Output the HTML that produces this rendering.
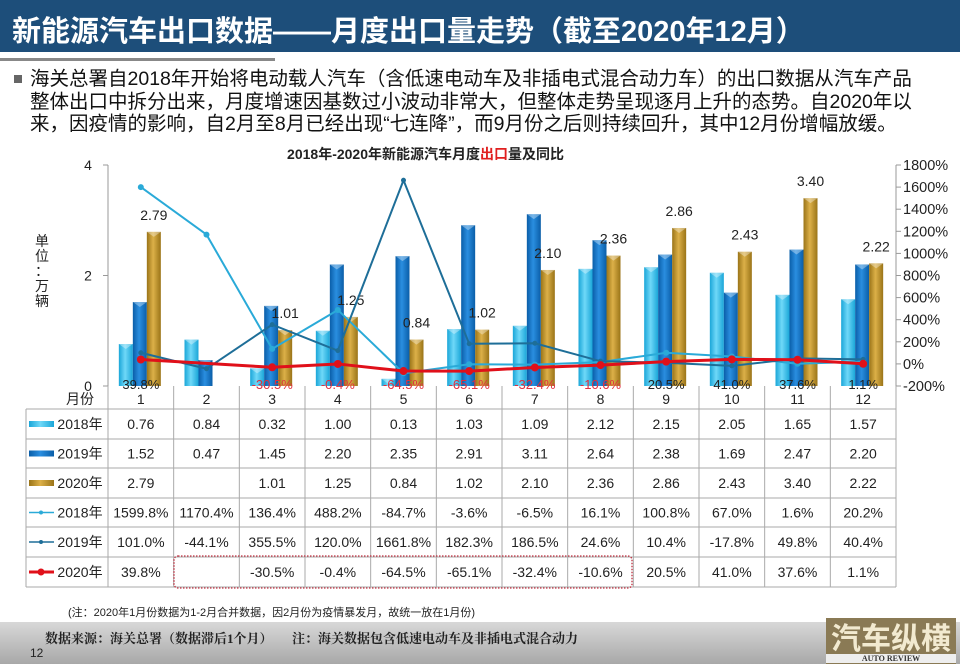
<!DOCTYPE html>
<html><head><meta charset="utf-8">
<style>
body{margin:0;width:960px;height:664px;overflow:hidden;background:#fff;font-family:"Liberation Sans","Noto Sans CJK SC",sans-serif;position:relative}
.hdr{position:absolute;left:0;top:0;width:960px;height:52px;background:#1d4e7a}
.hdr h1{margin:0;position:absolute;left:12px;top:8px;font-size:29px;color:#fff;font-weight:bold;letter-spacing:0;white-space:nowrap}
.rule{position:absolute;left:0;top:58px;width:275px;height:3px;background:#888}
.bul{position:absolute;left:14px;top:75px;width:8px;height:8px;background:#666}
.txt{position:absolute;left:30px;top:68px;width:925px;font-size:19.5px;line-height:22.5px;color:#111;white-space:nowrap}
.note{position:absolute;left:68px;top:604px;font-size:11px;color:#222}
.foot{position:absolute;left:0;top:622px;width:960px;height:42px;background:linear-gradient(#d8d8d8,#a8a8a8)}
.src{position:absolute;left:45px;top:628px;font-size:13px;font-weight:bold;color:#222;font-family:"Liberation Serif","Noto Serif CJK SC",serif}
.pg{position:absolute;left:30px;top:646px;font-size:12px;color:#222}
.logo{position:absolute;left:826px;top:618px;width:130px;height:46px;background:#8a7a55;color:#f2ead0;font-size:30px;font-weight:bold;text-align:center;line-height:36px;font-family:"Noto Sans CJK SC",sans-serif}
.logo span{position:absolute;left:0;right:0;bottom:1px;font-size:8px;line-height:9px;background:#eee;color:#333;font-family:"Liberation Serif",serif}
</style></head><body>
<div class="hdr"><h1>新能源汽车出口数据——月度出口量走势（截至2020年12月）</h1></div>
<div class="rule"></div>
<div class="bul"></div>
<div class="txt">海关总署自2018年开始将电动载人汽车（含低速电动车及非插电式混合动力车）的出口数据从汽车产品<br>整体出口中拆分出来，月度增速因基数过小波动非常大，但整体走势呈现逐月上升的态势。自2020年以<br>来，因疫情的影响，自2月至8月已经出现“七连降”，而9月份之后则持续回升，其中12月份增幅放缓。</div>
<svg id="chart" width="960" height="664" style="position:absolute;left:0;top:0"></svg>
<div class="note">(注：2020年1月份数据为1-2月合并数据，因2月份为疫情暴发月，故统一放在1月份)</div>
<div class="foot"></div>
<div class="src">数据来源：海关总署（数据滞后1个月）&nbsp;&nbsp;&nbsp;&nbsp;&nbsp;&nbsp;注：海关数据包含低速电动车及非插电式混合动力</div>
<div class="pg">12</div>
<div class="logo">汽车纵横<span>AUTO REVIEW</span></div>
<script>
const months=["1","2","3","4","5","6","7","8","9","10","11","12"];
const vol2018=[0.76,0.84,0.32,1.00,0.13,1.03,1.09,2.12,2.15,2.05,1.65,1.57];
const vol2019=[1.52,0.47,1.45,2.20,2.35,2.91,3.11,2.64,2.38,1.69,2.47,2.20];
const vol2020=[2.79,null,1.01,1.25,0.84,1.02,2.10,2.36,2.86,2.43,3.40,2.22];
const yoy2018=[1599.8,1170.4,136.4,488.2,-84.7,-3.6,-6.5,16.1,100.8,67.0,1.6,20.2];
const yoy2019=[101.0,-44.1,355.5,120.0,1661.8,182.3,186.5,24.6,10.4,-17.8,49.8,40.4];
const yoy2020=[39.8,null,-30.5,-0.4,-64.5,-65.1,-32.4,-10.6,20.5,41.0,37.6,1.1];
const leftTicks=[0,2,4];
const rightTicks=[-200,0,200,400,600,800,1000,1200,1400,1600,1800];
const NS="http://www.w3.org/2000/svg";
const svg=document.getElementById('chart');
const X0=108,X1=896,TOP=165,BOT=386;
const cw=(X1-X0)/months.length;
const cx=i=>X0+cw*(i+0.5);
const yL=v=>BOT-(v/4)*(BOT-TOP);
const yR=v=>BOT-((v+200)/2000)*(BOT-TOP);
function el(t,a,p){const e=document.createElementNS(NS,t);for(const k in a)e.setAttribute(k,a[k]);(p||svg).appendChild(e);return e;}
function tx(x,y,s,a){const e=el('text',Object.assign({x:x,y:y,'font-size':13,fill:'#222','text-anchor':'middle','font-family':'Liberation Sans, Noto Sans CJK SC, sans-serif'},a||{}));e.textContent=s;return e;}
const defs=el('defs',{});
[['g18','#1aa6d8','#6fd8f8'],['g19','#0a5ea8','#2a8ee0'],['g20','#9a7418','#dcb048']].forEach(g=>{
 const lg=el('linearGradient',{id:g[0],x1:0,x2:1,y1:0,y2:0},defs);
 el('stop',{offset:'0','stop-color':g[1]},lg);el('stop',{offset:'0.45','stop-color':g[2]},lg);el('stop',{offset:'1','stop-color':g[1]},lg);
});
let t=tx(480,159,'2018年-2020年新能源汽车月度',{'font-size':14,'font-weight':'bold','text-anchor':'end'});

t=tx(480,159,'',{'font-size':14,'font-weight':'bold','text-anchor':'start'});

t.innerHTML='<tspan fill="#e02020">出口</tspan>量及同比';
let a=el('line',{x1:X0,x2:X0,y1:TOP,y2:BOT,stroke:'#999'});
a=el('line',{x1:X1,x2:X1,y1:TOP,y2:BOT,stroke:'#999'});
leftTicks.forEach(v=>{el('line',{x1:X0-5,x2:X0,y1:yL(v),y2:yL(v),stroke:'#999'});const e=tx(88,yL(v)+5,String(v),{'font-size':14});});
rightTicks.forEach(v=>{el('line',{x1:X1,x2:X1+5,y1:yR(v),y2:yR(v),stroke:'#999'});const e=tx(903,yR(v)+5,v+'%',{'font-size':14.5,'text-anchor':'start'});});
const yl=tx(42,246,'',{'font-size':14});
['单','位','：','万','辆'].forEach((c,i)=>{const s=document.createElementNS(NS,'tspan');s.setAttribute('x',42);s.setAttribute('y',246+i*15);s.textContent=c;yl.appendChild(s);});
const series=[[vol2018,'g18',-15],[vol2019,'g19',-1],[vol2020,'g20',13]];
series.forEach((s,si)=>{s[0].forEach((v,i)=>{if(v==null)return;const x=cx(i)+s[2]-7;
 const r=el('rect',{x:x,y:yL(v),width:14,height:BOT-yL(v),fill:'url(#'+s[1]+')'});
 
 el('path',{d:`M${x} ${yL(v)} L${x+14} ${yL(v)} L${x+7} ${yL(v)+5}Z`,fill:'rgba(255,255,255,0.35)'});
});});
vol2020.forEach((v,i)=>{if(v==null)return;const e=tx(cx(i)+13,yL(v)-12,v.toFixed(2),{'font-size':14});});
function line(data,color,w,name,mk){let d='';data.forEach((v,i)=>{if(v==null)return;d+=(d?'L':'M')+cx(i)+' '+yR(v);});
 const p=el('path',{d:d,fill:'none',stroke:color,'stroke-width':w});
 data.forEach((v,i)=>{if(v==null)return;const m=el('circle',{cx:cx(i),cy:yR(v),r:mk,fill:color});});}
line(yoy2018,'#2aaad8',2,'line-yoy-2018',3);
line(yoy2019,'#1e6e98',2,'line-yoy-2019',2.5);
line(yoy2020,'#e0101a',3,'line-yoy-2020',4);
yoy2020.forEach((v,i)=>{if(v==null)return;const e=tx(cx(i),389,v.toFixed(1)+'%',{'font-size':13,fill:v<0?'#e03040':'#222'});});
const rowsY=[386,409,439,468,498,527,557,587];
const TL=26;
el('line',{x1:TL,x2:X1,y1:409,y2:409,stroke:'#aaa'});
rowsY.slice(2).forEach(y=>el('line',{x1:TL,x2:X1,y1:y,y2:y,stroke:'#aaa'}));
el('line',{x1:TL,x2:TL,y1:409,y2:587,stroke:'#aaa'});
for(let i=0;i<=12;i++)el('line',{x1:X0+cw*i,x2:X0+cw*i,y1:386,y2:587,stroke:'#aaa'});
let mh=tx(80,404,'月份',{'font-size':14});
months.forEach((m,i)=>{const e=tx(cx(i),404,m,{'font-size':14});});
const tableRows=[[vol2018,v=>v.toFixed(2),'bar','g18'],[vol2019,v=>v.toFixed(2),'bar','g19'],[vol2020,v=>v.toFixed(2),'bar','g20'],[yoy2018,v=>v.toFixed(1)+'%','line','#2aaad8'],[yoy2019,v=>v.toFixed(1)+'%','line','#1e6e98'],[yoy2020,v=>v.toFixed(1)+'%','line','#e0101a']];
tableRows.forEach((r,ri)=>{const y0=rowsY[ri+1],y1=rowsY[ri+2],ym=(y0+y1)/2;
 if(r[2]=='bar')el('rect',{x:29,y:ym-3,width:25,height:6,fill:'url(#'+r[3]+')'});
 else{el('line',{x1:29,x2:54,y1:ym,y2:ym,stroke:r[3],'stroke-width':ri==5?3:1.5});el('circle',{cx:41,cy:ym,r:ri==5?3.5:2,fill:r[3]});}
 const lb=tx(80,ym+5,(ri%3==0?'2018':ri%3==1?'2019':'2020')+'年',{'font-size':14});
 r[0].forEach((v,i)=>{if(v==null)return;const e=tx(cx(i),ym+5,r[1](v),{'font-size':14});});
});
const box=el('rect',{x:174,y:556,width:458,height:32,rx:4,fill:'none',stroke:'#c03040','stroke-dasharray':'1.5,1.5','stroke-width':1.3});

</script>
</body></html>
